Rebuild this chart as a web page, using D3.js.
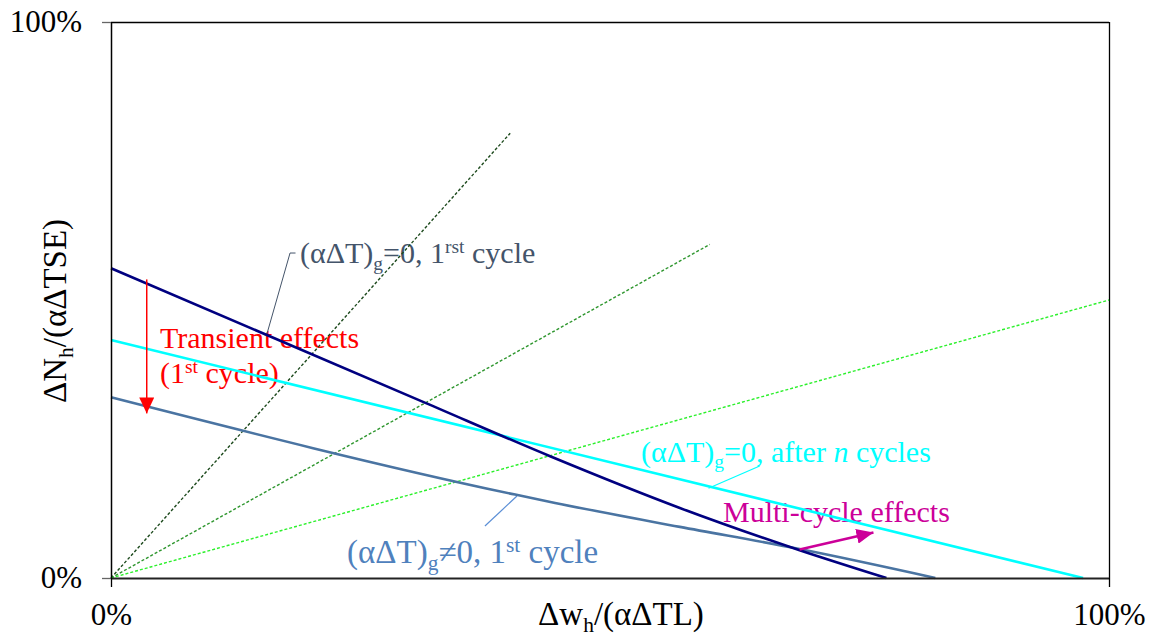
<!DOCTYPE html>
<html><head><meta charset="utf-8">
<script src="https://cdn.jsdelivr.net/npm/d3@7"></script>
<style>
html,body{margin:0;padding:0;background:#fff;}
svg{display:block;font-family:"Liberation Serif","Times New Roman",serif;}
</style></head><body>
<svg id="c" width="1162" height="636"></svg>
<script>
// ---- data ----
const tickValues = [0, 1];
const tickLabels = ["0%", "100%"];
// (αΔT)g=0, 1st cycle (navy)
const firstCycleX = [0, 0.315, 0.44, 0.57, 0.69, 0.777];
const firstCycleY = [0.557, 0.315, 0.219, 0.126, 0.05, 0];
// (αΔT)g=0, after n cycles (cyan)
const afterNX = [0, 0.974];
const afterNY = [0.428, 0];
// (αΔT)g≠0, 1st cycle (steel blue)
const gradX = [0, 0.405, 0.445, 0.57, 0.69, 0.826];
const gradY = [0.325, 0.150, 0.135, 0.092, 0.052, 0];
// dashed rays from origin
const ray1X = [0, 0.4], ray1Y = [0, 0.8];
const ray2X = [0, 0.6], ray2Y = [0, 0.6];
const ray3X = [0, 1.0], ray3Y = [0, 0.5];

// ---- layout ----
const W = 1162, H = 636;
const m = {left: 111, right: 53, top: 22, bottom: 58};
const svg = d3.select("#c");
const x = d3.scaleLinear().domain([0, 1]).range([m.left, W - m.right]);
const y = d3.scaleLinear().domain([0, 1]).range([H - m.bottom, m.top]);
const zip = (a, b) => a.map((v, i) => [v, b[i]]);
const FS_TICK = 31, FS_TITLE = 33, FS_ANN = 30;

function rich(t, parts, fs) {
  let shift = 0;
  parts.forEach(p => {
    const target = p.sub ? fs * 0.22 : p.sup ? -fs * 0.34 : 0;
    const ts = t.append("tspan").attr("dy", target - shift).text(p.t);
    shift = target;
    if (p.sub || p.sup) ts.attr("font-size", fs * 0.65);
    if (p.it) ts.attr("font-style", "italic");
  });
}

// frame: gridlines at 100%
svg.append("g").attr("transform", `translate(${m.left},0)`)
  .call(d3.axisLeft(y).tickValues([1]).tickSize(-(W - m.left - m.right)).tickFormat(""))
  .call(g => g.select(".domain").remove())
  .selectAll("line").attr("stroke", "#000").attr("stroke-width", 1.3);
svg.append("g").attr("transform", `translate(0,${H - m.bottom})`)
  .call(d3.axisBottom(x).tickValues([1]).tickSize(-(H - m.top - m.bottom)).tickFormat(""))
  .call(g => g.select(".domain").remove())
  .selectAll("line").attr("stroke", "#000").attr("stroke-width", 1.3);

// annotations text (drawn under lines)
const ann = svg.append("g");
function label(px, py, parts, color, fs) {
  fs = fs || FS_ANN;
  const t = ann.append("text").attr("x", x(px)).attr("y", y(py))
    .attr("font-size", fs).attr("fill", color);
  rich(t, parts, fs);
  return t;
}
label(0.1894, 0.5665, [{t: "(αΔT)"}, {t: "g", sub: 1}, {t: "=0, 1"}, {t: "rst", sup: 1}, {t: " cycle"}], "#44546a");
label(0.0491, 0.413, [{t: "Transient effects"}], "#ff0000");
label(0.0491, 0.350, [{t: "(1"}, {t: "st", sup: 1}, {t: " cycle)"}], "#ff0000");
label(0.531, 0.209, [{t: "(αΔT)"}, {t: "g", sub: 1}, {t: "=0, after "}, {t: "n", it: 1}, {t: " cycles"}], "#00ffff");
label(0.6132, 0.1013, [{t: "Multi-cycle effects"}], "#cc0099");
label(0.2365, 0.027, [{t: "(αΔT)"}, {t: "g", sub: 1}, {t: "≠0, 1"}, {t: "st", sup: 1}, {t: " cycle"}], "#4f81bd", 33);

// leader lines
const leaderLine = d3.line().x(d => x(d[0])).y(d => y(d[1]));
svg.append("path").attr("d", leaderLine([[0.1849, 0.5845], [0.1794, 0.5845], [0.156, 0.4376]]))
  .attr("fill", "none").attr("stroke", "#44546a").attr("stroke-width", 1);
svg.append("path").attr("d", leaderLine([[0.650, 0.2014], [0.5987, 0.1613]]))
  .attr("fill", "none").attr("stroke", "#00ffff").attr("stroke-width", 1.2);
svg.append("path").attr("d", leaderLine([[0.3747, 0.0935], [0.4068, 0.1475]]))
  .attr("fill", "none").attr("stroke", "#5b8fd6").attr("stroke-width", 1.2);

// dashed rays
const line = d3.line().x(d => x(d[0])).y(d => y(d[1]));
[[ray1X, ray1Y, "#1d4a1d"], [ray2X, ray2Y, "#2e962e"], [ray3X, ray3Y, "#2cf02c"]].forEach(([xs, ys, c]) => {
  svg.append("path").attr("d", line(zip(xs, ys))).attr("fill", "none")
    .attr("stroke", c).attr("stroke-width", 1.4).attr("stroke-dasharray", "3,2");
});

// solid series
const curve = d3.line().x(d => x(d[0])).y(d => y(d[1])).curve(d3.curveMonotoneX);
svg.append("path").attr("d", curve(zip(gradX, gradY))).attr("fill", "none")
  .attr("stroke", "#4a74a2").attr("stroke-width", 2.6);
svg.append("path").attr("d", line(zip(afterNX, afterNY))).attr("fill", "none")
  .attr("stroke", "#00ffff").attr("stroke-width", 2.6);
svg.append("path").attr("d", curve(zip(firstCycleX, firstCycleY))).attr("fill", "none")
  .attr("stroke", "#000080").attr("stroke-width", 2.6);

// arrows
const defs = svg.append("defs");
function marker(id, color, len, wid) {
  defs.append("marker").attr("id", id).attr("markerUnits", "userSpaceOnUse")
    .attr("viewBox", `0 0 ${len} ${wid}`).attr("refX", len).attr("refY", wid / 2)
    .attr("markerWidth", len).attr("markerHeight", wid).attr("orient", "auto")
    .append("path").attr("d", `M0,0L${len},${wid / 2}L0,${wid}Z`).attr("fill", color);
}
marker("ar", "#ff0000", 16, 15);
marker("am", "#cc0099", 17, 15);
svg.append("path").attr("d", line([[0.0358, 0.537], [0.0358, 0.296]]))
  .attr("stroke", "#ff0000").attr("stroke-width", 1.5).attr("marker-end", "url(#ar)");
svg.append("path").attr("d", line([[0.690, 0.0513], [0.764, 0.0818]]))
  .attr("stroke", "#cc0099").attr("stroke-width", 2.6).attr("marker-end", "url(#am)");

// axes
const yAxis = svg.append("g").attr("transform", `translate(${m.left},0)`)
  .call(d3.axisLeft(y).tickValues(tickValues).tickFormat((d, i) => tickLabels[i])
    .tickSizeInner(9).tickSizeOuter(0).tickPadding(20));
yAxis.select(".domain").attr("stroke", "#000").attr("stroke-width", 1.5);
yAxis.selectAll(".tick line").attr("stroke", "#666").attr("stroke-width", 1.3);
yAxis.selectAll("text").attr("font-size", FS_TICK).attr("fill", "#000")
  .attr("font-family", "Liberation Serif, Times New Roman, serif");

const xAxis = svg.append("g").attr("transform", `translate(0,${H - m.bottom})`)
  .call(d3.axisBottom(x).tickValues(tickValues).tickFormat((d, i) => tickLabels[i])
    .tickSizeInner(9).tickSizeOuter(0).tickPadding(16));
xAxis.select(".domain").attr("stroke", "#222").attr("stroke-width", 2.2);
xAxis.selectAll(".tick line").attr("stroke", "#000").attr("stroke-width", 1.3);
xAxis.selectAll("text").attr("font-size", FS_TICK).attr("fill", "#000")
  .attr("font-family", "Liberation Serif, Times New Roman, serif");

// axis titles
const xt = svg.append("text").attr("x", 621).attr("y", 625).attr("text-anchor", "middle")
  .attr("font-size", FS_TITLE).attr("fill", "#000");
rich(xt, [{t: "Δw"}, {t: "h", sub: 1}, {t: "/(αΔTL)"}], FS_TITLE);
const yt = svg.append("text").attr("transform", "translate(66,311) rotate(-90)")
  .attr("text-anchor", "middle").attr("font-size", FS_TITLE).attr("fill", "#000");
rich(yt, [{t: "ΔN"}, {t: "h", sub: 1}, {t: "/(αΔTSE)"}], FS_TITLE);
</script>
</body></html>
